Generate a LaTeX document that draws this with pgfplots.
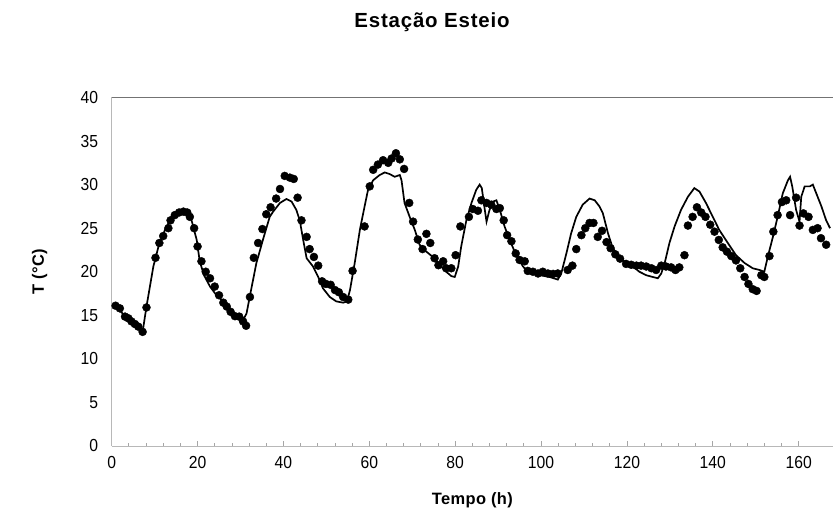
\documentclass[border=0pt]{standalone}
\usepackage{fontspec}
\setmainfont{Liberation Sans}[FakeStretch=0.9]
\newfontfamily\titlefont{Liberation Sans}[LetterSpace=4.0]
\newfontfamily\labelfont{Liberation Sans}[LetterSpace=2.5]
\usepackage{pgfplots}
\pgfplotsset{compat=1.18}

\begin{document}
\begin{tikzpicture}[x=1bp,y=1bp]
\useasboundingbox (0,0) rectangle (834,515);
\node[font=\titlefont\fontsize{20.5}{24}\selectfont\bfseries] at (432,493) {Estação Esteio};
\begin{axis}[
    at={(111.7bp,69bp)}, anchor=south west,
    width=721.3bp, height=348.5bp, scale only axis,
    xmin=0, xmax=168, ymin=0, ymax=40,
    axis x line=bottom, axis y line=left,
    axis line style={-, draw=black!28, line width=0.9bp},
    xtick={0,20,...,160}, minor x tick num=4,
    ytick={0,5,...,40},
    tick align=inside,
    major tick length=5bp, minor tick length=3bp,
    x tick style={draw=black!35, line width=0.8bp},
    y tick style={draw=none},
    extra y ticks={40}, extra y tick labels={},
    extra y tick style={grid=major, major grid style={draw=black!55, line width=1.4bp}},
    /pgf/number format/assume math mode=true,
    tick label style={font=\fontsize{17.5}{20}\selectfont},
    xticklabel style={yshift=-7bp},
    yticklabel style={xshift=-10bp},
    xlabel={\bfseries Tempo (h)},
    ylabel={\bfseries T (°C)},
    label style={font=\labelfont\fontsize{16.5}{19}\selectfont},
    xlabel style={at={(axis description cs:0.5,0)}, anchor=center, yshift=-54bp},
    ylabel style={at={(axis description cs:0,0.5)}, anchor=center, yshift=72bp},
    clip=false,
]
% simulated
\addplot[black, line width=1.7bp, no marks] coordinates {
(0.9,16.0) (3.0,15.0) (5.0,14.3) (7.2,13.1) (8.1,16.0) (9.7,20.6) (10.9,22.9)
(12.4,24.8) (14.0,26.3) (15.9,27.0) (17.5,26.9) (18.6,25.9) (19.8,23.65)
(20.5,21.2) (21.5,19.6) (22.9,18.3) (24.4,17.3) (26.0,16.6) (27.9,15.4)
(29.9,14.85) (30.8,14.65) (31.4,15.2) (32.3,17.5) (33.7,21.0) (35.3,23.8)
(36.8,26.3) (37.6,26.9) (39.2,27.9) (40.7,28.35) (41.9,28.05) (43.0,27.1)
(43.8,25.9) (44.6,23.65) (45.4,21.55) (46.9,20.6) (48.1,19.4) (49.2,18.1)
(50.8,17.1) (52.3,16.6) (53.9,16.45) (54.8,16.6) (55.5,17.9) (56.6,21.0)
(57.8,24.8) (58.9,27.5) (59.7,29.4) (60.9,30.5) (62.4,31.1) (63.6,31.4)
(64.8,31.2) (65.9,30.9) (67.1,31.1) (67.5,30.5) (68.2,27.9) (69.4,26.3)
(70.6,24.8) (71.7,23.1) (73.3,22.3) (74.8,21.7) (76.4,20.8) (77.9,20.0)
(79.1,19.5) (79.9,19.4) (80.7,20.6) (81.4,22.9) (82.6,25.9) (83.8,27.9)
(84.9,29.4) (85.7,30.0) (86.2,29.6) (86.9,27.1) (87.3,25.75) (88.0,27.1)
(88.8,28.05) (89.6,28.2) (90.4,27.1) (91.5,25.2) (92.7,23.65) (94.2,21.9)
(95.8,20.6) (97.3,19.8) (99.7,19.6) (102.0,19.4) (103.9,19.1) (104.7,19.8)
(105.9,22.1) (107.0,24.4) (108.2,26.3) (109.7,27.7) (111.3,28.4) (112.5,28.2)
(113.6,27.5) (114.4,26.7) (115.6,24.4) (116.7,22.7) (118.3,21.7) (119.8,21.0)
(121.4,20.6) (122.9,20.0) (124.5,19.6) (126.0,19.4) (127.2,19.25) (128.0,19.8)
(128.8,21.0) (129.9,23.3) (131.1,25.2) (132.6,27.1) (134.2,28.6) (135.7,29.6)
(136.9,29.2) (138.4,27.9) (140.0,26.3) (141.5,24.8) (143.5,23.3) (145.4,21.9)
(147.4,21.0) (149.3,20.4) (150.9,20.2) (152.0,20.0) (152.8,21.7) (154.0,24.0)
(155.1,26.3) (156.3,29.0) (157.5,30.5) (158.0,30.9) (158.5,29.8) (159.4,27.1)
(160.2,25.75) (160.6,28.6) (161.4,29.8) (162.6,29.8) (163.3,30.0) (164.1,29.0)
(165.3,27.5) (166.4,25.9) (167.3,25.0)
};
% measured
\addplot[only marks, mark=*, mark size=4bp, black, mark options={fill=black}] coordinates {
(0.9,16.1) (1.9,15.8) (3.1,14.85) (3.9,14.65) (4.6,14.3) (5.4,14.0) (6.2,13.7)
(7.2,13.1) (8.1,15.9) (10.2,21.6) (11.1,23.3) (12.0,24.1) (13.2,25.0) (13.7,25.9)
(14.7,26.5) (15.7,26.8) (16.7,26.9) (17.6,26.8) (18.2,26.3) (19.2,25.0) (20.0,22.9)
(20.9,21.2) (21.9,20.0) (22.9,19.25) (24.0,18.3) (25.0,17.3) (26.0,16.45) (26.8,16.0)
(27.7,15.4) (28.7,14.9) (29.7,14.85) (30.6,14.3) (31.3,13.8) (32.2,17.1) (33.1,21.6)
(34.1,23.3) (35.1,24.9) (36.0,26.6) (37.0,27.4) (38.3,28.4) (39.2,29.5) (40.3,31.0)
(41.5,30.8) (42.4,30.65) (43.3,28.5) (44.2,25.9) (45.4,24.0) (46.1,22.6) (47.1,21.7)
(48.1,20.7) (49.0,18.9) (49.9,18.6) (51.0,18.5) (52.0,17.9) (52.9,17.65) (53.9,17.1)
(55.1,16.8) (56.1,20.1) (58.9,25.2) (60.1,29.8) (60.9,31.7) (62.0,32.3) (63.2,32.8)
(64.4,32.5) (65.2,33.0) (66.2,33.6) (67.1,32.9) (68.1,31.8) (69.3,27.9) (70.2,25.75)
(71.3,23.7) (72.4,22.6) (73.3,24.35) (74.2,23.3) (75.2,21.55) (76.1,20.75) (77.2,21.2)
(77.9,20.4) (79.1,20.4) (80.1,21.9) (81.2,25.2) (83.2,26.3) (84.1,27.2) (85.3,27.0)
(86.1,28.2) (87.3,27.9) (88.4,27.7) (89.6,27.2) (90.4,27.3) (91.3,25.9) (92.1,24.2)
(93.1,23.5) (94.1,22.1) (95.0,21.35) (96.2,21.2) (96.9,20.1) (98.1,20.0) (99.3,19.8)
(100.4,20.0) (101.6,19.8) (102.8,19.75) (103.9,19.8) (106.2,20.2) (107.3,20.7)
(108.2,22.6) (109.4,24.2) (110.3,25.0) (111.3,25.6) (112.2,25.6) (113.2,24.0)
(114.2,24.7) (115.25,23.4) (116.2,22.7) (117.3,22.0) (118.4,21.5) (119.8,20.9)
(121.0,20.8) (122.2,20.7) (123.3,20.7) (124.5,20.6) (125.7,20.4) (126.8,20.2)
(128.0,20.7) (129.1,20.6) (130.3,20.5) (131.3,20.2) (132.2,20.5) (133.4,21.9)
(134.2,25.3) (135.3,26.3) (136.3,27.4) (137.3,26.8) (138.3,26.3) (139.4,25.4)
(140.4,24.6) (141.4,23.65) (142.3,22.8) (143.3,22.3) (144.3,21.8) (145.4,21.3)
(146.4,20.4) (147.4,19.4) (148.3,18.6) (149.3,18.0) (150.2,17.8) (151.3,19.6)
(152.0,19.4) (153.2,21.8) (154.1,24.6) (155.1,26.5) (156.1,28.0) (157.1,28.2)
(158.0,26.5) (159.4,28.5) (160.2,25.3) (161.1,26.7) (162.3,26.3) (163.3,24.8)
(164.4,25.0) (165.2,23.85) (166.4,23.1)
};
\end{axis}
\end{tikzpicture}
\end{document}
